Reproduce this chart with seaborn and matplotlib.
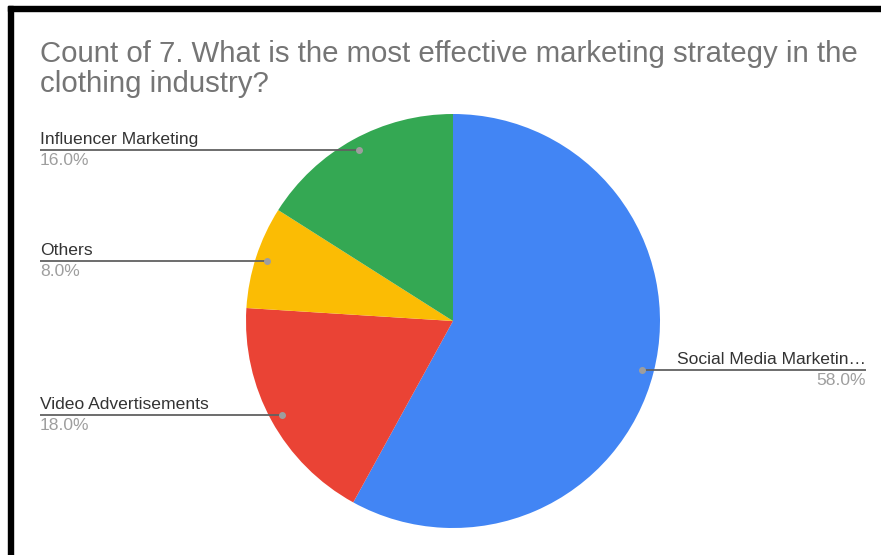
import matplotlib
matplotlib.use("Agg")
import matplotlib.pyplot as plt
import numpy as np
import seaborn as sns

# Survey answers and their shares (percent)
categories = ["Social Media Marketin\u2026", "Video Advertisements", "Others", "Influencer Marketing"]
shares = [58.0, 18.0, 8.0, 16.0]
slice_colors = ["#4285F4", "#EA4335", "#FBBC04", "#34A853"]
title = "Count of 7. What is the most effective marketing strategy in the\nclothing industry?"

sns.set_theme(style="white")
plt.rcParams["font.family"] = ["Liberation Sans", "DejaVu Sans"]

W, H = 881, 555
fig = plt.figure(figsize=(W / 100, H / 100), dpi=100)
ax = fig.add_axes([0, 0, 1, 1])

cx, cy, R = 453, H - 321, 207
wedges, _ = ax.pie(shares, colors=slice_colors, startangle=90, counterclock=False,
                   center=(cx, cy), radius=R, frame=True,
                   wedgeprops=dict(linewidth=0))
ax.set_xlim(0, W)
ax.set_ylim(0, H)
ax.set_aspect("equal")
ax.axis("off")

line_col = "#616161"
dot_col = "#9e9e9e"
fs = 12.6
for w, name, val in zip(wedges, categories, shares):
    mid = np.deg2rad((w.theta1 + w.theta2) / 2)
    dx = cx + 0.945 * R * np.cos(mid)
    dy = cy + 0.945 * R * np.sin(mid)
    if np.cos(mid) < 0:
        x0, x1, tx, ha = 40, dx, 40, "left"
    else:
        x0, x1, tx, ha = dx, 866, 866, "right"
    ax.plot([x0, x1], [dy, dy], color=line_col, lw=1.3, solid_capstyle="butt", zorder=3)
    ax.plot([dx], [dy], "o", color=dot_col, ms=4, zorder=4)
    ax.text(tx, dy + 3, name, ha=ha, va="bottom", fontsize=fs, color="#333333")
    ax.text(tx, dy - 3, f"{val:.1f}%", ha=ha, va="top", fontsize=fs, color="#9e9e9e")

fig.text(40 / W, 1 - 40 / H, title, ha="left", va="top", fontsize=21.2,
         color="#757575", linespacing=1.08)

# frame edges along top and left
fig.patches.append(plt.Rectangle((8 / W, 0), 5 / W, 1 - 6 / H, transform=fig.transFigure,
                                 color="black", zorder=10))
fig.patches.append(plt.Rectangle((8 / W, 1 - 11 / H), 1, 5 / H, transform=fig.transFigure,
                                 color="black", zorder=10))

fig.savefig("out.png", dpi=100, facecolor="white")
